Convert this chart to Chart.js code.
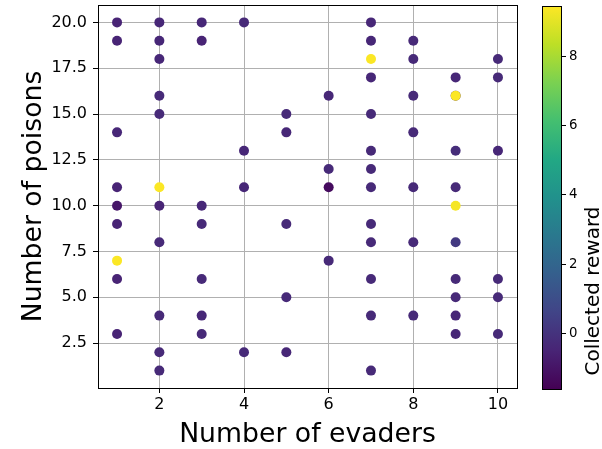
<!DOCTYPE html>
<html>
<head>
<meta charset="utf-8">
<script src="https://cdn.jsdelivr.net/npm/chart.js@4/dist/chart.umd.min.js"></script>
<style>
html, body { margin: 0; padding: 0; background: #fff; }
#wrap { width: 602px; height: 449px; }
</style>
</head>
<body>
<div id="wrap"><canvas id="myChart" width="602" height="449"></canvas></div>
<script>
// points: evaders (x), poisons (y), collected reward (colour)
const evaders = [
    1, 1, 1, 1, 1, 1, 1, 1, 1,
    2, 2, 2, 2, 2, 2, 2, 2, 2, 2, 2,
    3, 3, 3, 3, 3, 3, 3,
    4, 4, 4, 4,
    5, 5, 5, 5, 5,
    6, 6, 6, 6,
    7, 7, 7, 7, 7, 7, 7, 7, 7, 7, 7, 7, 7,
    8, 8, 8, 8, 8, 8, 8,
    9, 9, 9, 9, 9, 9, 9, 9, 9, 9, 9,
    10, 10, 10, 10, 10, 10
];
const poisons = [
    20, 19, 14, 11, 10, 9, 7, 6, 3,
    20, 19, 18, 16, 15, 11, 10, 8, 4, 2, 1,
    20, 19, 10, 9, 6, 4, 3,
    20, 13, 11, 2,
    15, 14, 9, 5, 2,
    16, 12, 11, 7,
    20, 19, 18, 17, 15, 13, 12, 11, 9, 8, 6, 4, 1,
    19, 18, 16, 14, 11, 8, 4,
    17, 16, 16, 13, 11, 10, 8, 6, 5, 4, 3,
    18, 17, 13, 6, 5, 3
];
const rewards = [
    -0.5, -0.5, -0.4, -0.5, -0.95, -0.5, 9.4, -0.5, -0.5,
    -0.4, -0.4, -0.4, -0.3, -0.3, 9.4, -0.5, -0.3, -0.3, -0.3, -0.3,
    -0.4, -0.5, -0.4, -0.3, -0.3, -0.4, -0.3,
    -0.3, -0.4, -0.4, -0.3,
    -0.3, -0.4, -0.3, -0.3, -0.4,
    -0.4, -0.3, -1.3, -0.3,
    -0.4, -0.4, 9.4, -0.4, -0.3, -0.3, -0.3, -0.3, -0.3, -0.3, -0.3, -0.3, -0.3,
    -0.3, -0.3, -0.3, -0.3, -0.3, -0.3, -0.3,
    -0.4, -0.3, 9.4, -0.2, -0.3, 9.3, 0.2, -0.3, -0.3, -0.4, -0.4,
    -0.3, -0.3, -0.4, -0.3, -0.3, -0.3
];

const xTicks = [2, 4, 6, 8, 10];
const yTicks = [2.5, 5.0, 7.5, 10.0, 12.5, 15.0, 17.5, 20.0];
const cbTicks = [0, 2, 4, 6, 8];
const cbMin = -1.62;
const cbMax = 9.44;

const viridis = ['#440154', '#482475', '#414487', '#355f8d', '#2a788e', '#21918c',
                 '#22a884', '#44bf70', '#7ad151', '#bddf26', '#fde725'];

function hexToRgb(h) {
    return [parseInt(h.slice(1, 3), 16), parseInt(h.slice(3, 5), 16), parseInt(h.slice(5, 7), 16)];
}

function viridisColor(v) {
    let t = (v - cbMin) / (cbMax - cbMin);
    t = Math.max(0, Math.min(1, t));
    const pos = t * (viridis.length - 1);
    const i = Math.min(Math.floor(pos), viridis.length - 2);
    const f = pos - i;
    const a = hexToRgb(viridis[i]);
    const b = hexToRgb(viridis[i + 1]);
    const c = a.map((ch, k) => Math.round(ch + (b[k] - ch) * f));
    return `rgb(${c[0]}, ${c[1]}, ${c[2]})`;
}

const FONT = "'DejaVu Sans', sans-serif";

const frameAndColorbar = {
    id: 'frameAndColorbar',
    afterDraw(chart) {
        const { ctx, chartArea } = chart;
        ctx.save();
        // axes frame
        ctx.strokeStyle = '#000';
        ctx.lineWidth = 1;
        ctx.strokeRect(Math.round(chartArea.left) + 0.5, Math.round(chartArea.top) + 0.5,
            Math.round(chartArea.right - chartArea.left), Math.round(chartArea.bottom - chartArea.top));

        // colorbar
        const x0 = 542, w = 19;
        const top = chartArea.top + 1, bottom = chartArea.bottom + 1;
        const grad = ctx.createLinearGradient(0, bottom, 0, top);
        viridis.forEach((c, i) => grad.addColorStop(i / (viridis.length - 1), c));
        ctx.fillStyle = grad;
        ctx.fillRect(x0, top, w, bottom - top);
        ctx.strokeRect(x0 + 0.5, top + 0.5, w, bottom - top);

        ctx.fillStyle = '#000';
        ctx.font = `13.3px ${FONT}`;
        ctx.textAlign = 'left';
        ctx.textBaseline = 'middle';
        cbTicks.forEach(v => {
            const y = Math.round(bottom - (v - cbMin) / (cbMax - cbMin) * (bottom - top)) + 0.5;
            ctx.beginPath();
            ctx.moveTo(x0 + w, y);
            ctx.lineTo(x0 + w + 5, y);
            ctx.stroke();
            ctx.fillText(String(v), x0 + w + 8, y);
        });

        ctx.translate(594, 291);
        ctx.rotate(-Math.PI / 2);
        ctx.textAlign = 'center';
        ctx.font = `20px ${FONT}`;
        ctx.fillText('Collected reward', 0, 0);
        ctx.restore();
    }
};

const points = evaders.map((x, i) => ({ x: x, y: poisons[i] }));

const config = {
    type: 'scatter',
    data: {
        datasets: [{
            data: points,
            backgroundColor: rewards.map(viridisColor),
            borderWidth: 0,
            pointRadius: 5,
            pointHoverRadius: 5,
        }],
    },
    options: {
        responsive: false,
        animation: false,
        devicePixelRatio: 1,
        layout: { padding: { top: 5, right: 85, left: 0, bottom: 0 } },
        plugins: {
            legend: { display: false },
            tooltip: { enabled: false },
        },
        scales: {
            x: {
                type: 'linear',
                min: 0.55,
                max: 10.45,
                z: 1,
                afterBuildTicks: (scale) => { scale.ticks = xTicks.map(v => ({ value: v })); },
                afterFit: (scale) => {
                    scale.height = 61;
                    scale.paddingLeft = 0;
                    scale.paddingRight = 0;
                },
                grid: { color: '#b0b0b0', tickColor: '#000', tickLength: 5, lineWidth: 1 },
                border: { display: true, color: '#000' },
                ticks: {
                    color: '#000',
                    padding: 2,
                    font: { family: FONT, size: 16 },
                    maxRotation: 0,
                    callback: (v) => String(v),
                },
                title: {
                    display: true,
                    text: 'Number of evaders',
                    color: '#000',
                    font: { family: FONT, size: 26.7, lineHeight: 1 },
                    padding: { top: 0, bottom: 1 },
                },
            },
            y: {
                type: 'linear',
                min: 0.05,
                max: 20.95,
                z: 1,
                afterBuildTicks: (scale) => { scale.ticks = yTicks.map(v => ({ value: v })); },
                afterFit: (scale) => {
                    scale.width = 98;
                    scale.paddingTop = 0;
                    scale.paddingBottom = 0;
                },
                grid: { color: '#b0b0b0', tickColor: '#000', tickLength: 5, lineWidth: 1 },
                border: { display: true, color: '#000' },
                ticks: {
                    color: '#000',
                    padding: 6,
                    font: { family: FONT, size: 16 },
                    callback: (v) => v.toFixed(1),
                },
                title: {
                    display: true,
                    text: 'Number of poisons',
                    color: '#000',
                    font: { family: FONT, size: 26.7, lineHeight: 1 },
                    padding: { top: 21, bottom: 0 },
                },
            },
        },
    },
    plugins: [frameAndColorbar],
};

const ctx = document.getElementById('myChart').getContext('2d');
new Chart(ctx, config);
</script>
</body>
</html>
